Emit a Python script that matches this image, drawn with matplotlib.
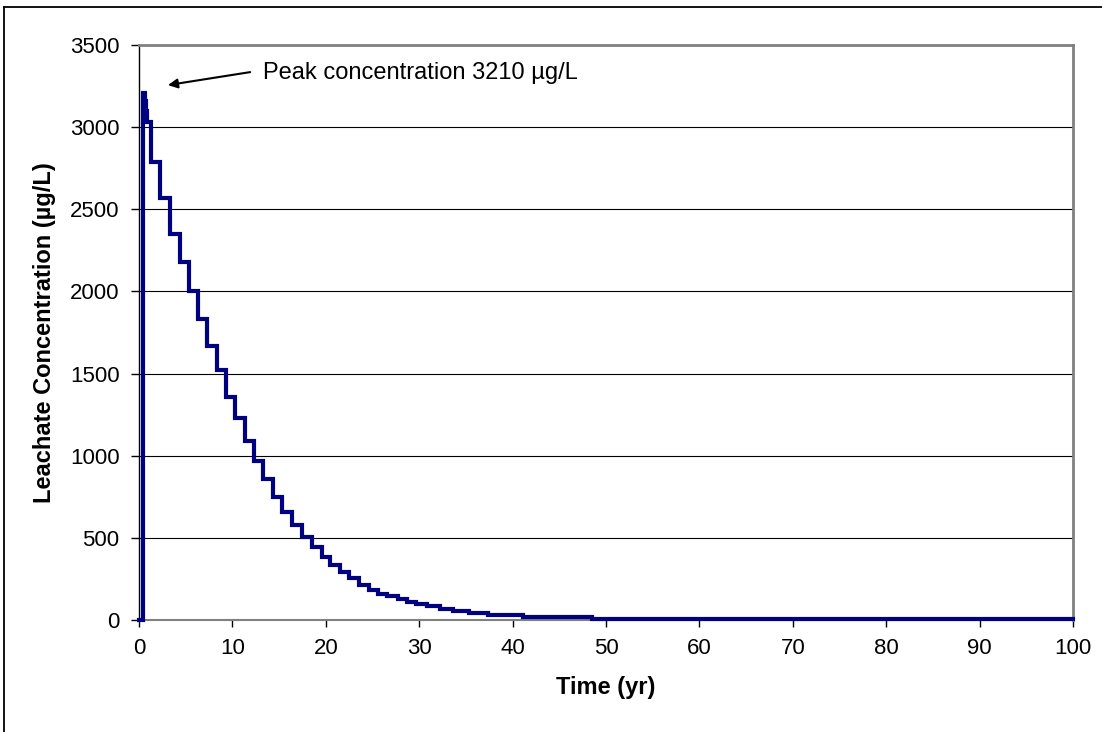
import matplotlib.pyplot as plt
from matplotlib.lines import Line2D

# time (yr) at which each level starts, and the leachate concentration (ug/L)
time_yr = [0.0, 0.43, 0.6, 0.72, 0.85, 1.25, 2.3, 3.35, 4.35, 5.3, 6.3, 7.3,
           8.3, 9.3, 10.3, 11.3, 12.3, 13.25, 14.3, 15.35, 16.4, 17.5, 18.5,
           19.55, 20.5, 21.5, 22.5, 23.6, 24.6, 25.6, 26.6, 27.7, 28.7, 29.7,
           30.8, 32.2, 33.6, 35.3, 37.4, 41.1, 48.5, 100.0]
conc = [0, 3210, 3160, 3100, 3030, 2790, 2570, 2350, 2180, 2000, 1830, 1670,
        1520, 1360, 1230, 1090, 970, 860, 750, 660, 580, 505, 445,
        385, 335, 290, 255, 215, 185, 160, 145, 130, 112, 100,
        85, 67, 55, 42, 30, 18, 4, 4]

x_ticks = list(range(0, 101, 10))
y_ticks = list(range(0, 3501, 500))
peak_label = "Peak concentration 3210 µg/L"

plt.rcParams['font.family'] = ['Liberation Sans', 'DejaVu Sans']

fig = plt.figure(figsize=(11.02, 7.32), dpi=100)
ax = fig.add_axes([139 / 1102, 112 / 732, 934 / 1102, 575 / 732])

ax.plot(time_yr, conc, drawstyle='steps-post', color='#000080', lw=3,
        solid_joinstyle='miter', zorder=3, clip_on=False)

ax.set_xlim(0, 100)
ax.set_ylim(0, 3500)
ax.set_xticks(x_ticks)
ax.set_yticks(y_ticks)
ax.tick_params(axis='both', labelsize=16, direction='out', color='black', width=1)
ax.tick_params(axis='x', length=5, pad=8)
ax.tick_params(axis='y', length=6, pad=8)
ax.yaxis.grid(True, color='black', lw=0.8)
ax.set_axisbelow(True)

ax.spines['left'].set_color('black')
ax.spines['left'].set_linewidth(1)
ax.spines['bottom'].set_color('#808080')
ax.spines['bottom'].set_linewidth(1.5)
for s in ('top', 'right'):
    ax.spines[s].set_color('#808080')
    ax.spines[s].set_linewidth(2)

ax.set_xlabel("Time (yr)", fontsize=17, fontweight='bold', labelpad=12)
ax.set_ylabel("Leachate Concentration (µg/L)", fontsize=17, fontweight='bold',
              labelpad=10)

ax.annotate('', xy=(3.1, 3256), xytext=(11.9, 3335),
            arrowprops=dict(arrowstyle='-|>', color='black', lw=1.5,
                            mutation_scale=14, shrinkA=0, shrinkB=0))
ax.text(13.3, 3329, peak_label, fontsize=17, va='center', ha='left')

# outer chart border (runs off the right and bottom edges)
fig.add_artist(Line2D([4 / 1102, 4 / 1102], [-0.1, 1 - 7 / 732],
                      color='black', lw=1.3, transform=fig.transFigure))
fig.add_artist(Line2D([4 / 1102, 1.1], [1 - 7 / 732, 1 - 7 / 732],
                      color='black', lw=1.3, transform=fig.transFigure))

fig.savefig('out.png', dpi=100)
